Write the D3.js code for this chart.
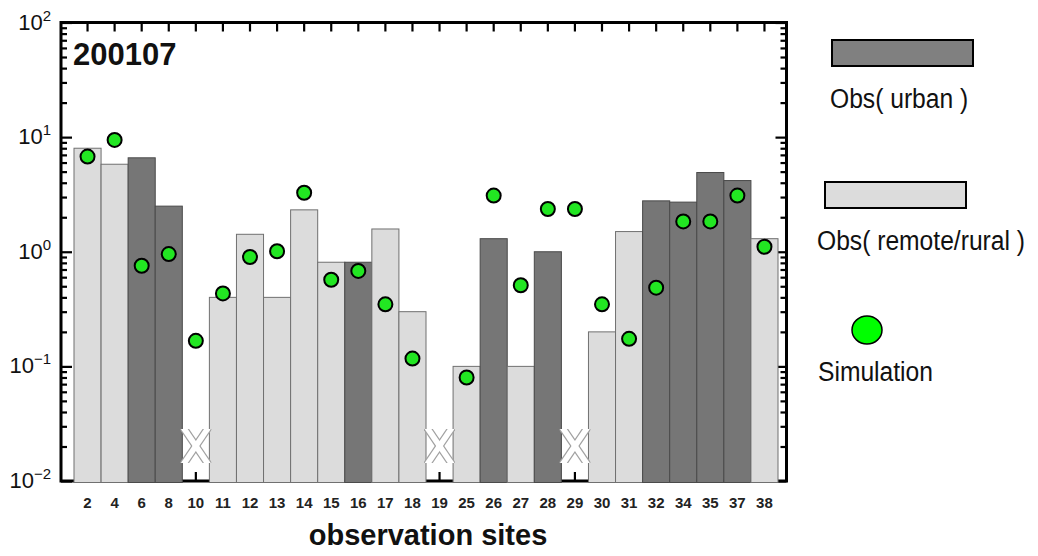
<!DOCTYPE html>
<html>
<head>
<meta charset="utf-8">
<script src="https://cdn.jsdelivr.net/npm/d3@7"></script>
<style>
  body { margin: 0; background: #fff; }
  svg { font-family: "Liberation Sans", Arial, Helvetica, sans-serif; }
</style>
</head>
<body>
<div id="chart"></div>
<script>
// observation sites (x categories)
var sites = ["2", "4", "6", "8", "10", "11", "12", "13", "14", "15", "16", "17", "18",
    "19", "25", "26", "27", "28", "29", "30", "31", "32", "34", "35", "37", "38"];
// 1 = urban, 0 = remote/rural
var urban = [0, 0, 1, 1, 0, 0, 0, 0, 0, 0, 1, 0, 0, 0, 0, 1, 0, 1, 0, 0, 0, 1, 1, 1, 1, 0];
// observed values (null = no data, drawn as X)
var obsValues = [8.0, 5.8, 6.6, 2.5, null, 0.40, 1.42, 0.40, 2.32, 0.81, 0.81, 1.58, 0.30,
    null, 0.10, 1.30, 0.10, 1.0, null, 0.20, 1.50, 2.78, 2.71, 4.91, 4.18, 1.30];
// simulated values
var simValues = [6.77, 9.46, 0.755, 0.955, 0.167, 0.433, 0.90, 1.01, 3.27, 0.57, 0.68, 0.348, 0.117,
    null, 0.080, 3.09, 0.51, 2.36, 2.36, 0.348, 0.174, 0.486, 1.84, 1.84, 3.09, 1.105];
var yTicks = [0.01, 0.1, 1, 10, 100];
var yExponents = ["\u22122", "\u22121", "0", "1", "2"];
var legendLabels = ["Obs( urban )", "Obs( remote/rural )", "Simulation"];

var width = 1038, height = 556;
var frame = { left: 61, right: 786.5, top: 22.5, bottom: 481 };

var svg = d3.select("#chart").append("svg")
    .attr("width", width)
    .attr("height", height);

var x = d3.scaleBand().domain(sites).range([74, 778]).padding(0);
var y = d3.scaleLog().domain([0.01, 100]).range([frame.bottom, frame.top]);

var data = sites.map(function (s, i) {
    return { site: s, urban: urban[i], obs: obsValues[i], sim: simValues[i] };
});
var missing = data.filter(function (d) { return d.obs == null; });

var minorTicks = [];
[0.01, 0.1, 1, 10].forEach(function (d) {
    for (var k = 2; k <= 9; k++) minorTicks.push(d * k);
});

// frame lines
svg.append("rect")
    .attr("x", frame.left).attr("y", frame.top)
    .attr("width", frame.right - frame.left)
    .attr("height", frame.bottom - frame.top)
    .attr("fill", "none")
    .attr("stroke", "#000")
    .attr("stroke-width", 3);

function styleAxis(g) {
    g.select(".domain").remove();
    g.selectAll(".tick line").attr("stroke", "#000").attr("stroke-width", 2.2);
    g.selectAll(".tick text").remove();
}

// left axis: inward ticks
svg.append("g").attr("transform", "translate(" + frame.left + ",0)")
    .call(d3.axisRight(y).tickValues(minorTicks).tickSize(6)).call(styleAxis);
svg.append("g").attr("transform", "translate(" + frame.left + ",0)")
    .call(d3.axisRight(y).tickValues(yTicks).tickSize(11)).call(styleAxis);
// right axis
svg.append("g").attr("transform", "translate(" + frame.right + ",0)")
    .call(d3.axisLeft(y).tickValues(minorTicks).tickSize(6)).call(styleAxis);
svg.append("g").attr("transform", "translate(" + frame.right + ",0)")
    .call(d3.axisLeft(y).tickValues(yTicks).tickSize(11)).call(styleAxis);
// top axis
svg.append("g").attr("transform", "translate(0," + frame.top + ")")
    .call(d3.axisBottom(x).tickSize(9)).call(styleAxis);
// bottom axis (mostly hidden by bars)
svg.append("g").attr("transform", "translate(0," + frame.bottom + ")")
    .call(d3.axisTop(x).tickSize(9)).call(styleAxis);

// y tick labels 10^n
var yLab = svg.append("g").selectAll("text")
    .data(yTicks)
    .enter().append("text")
    .attr("x", 51)
    .attr("y", function (d) { return y(d) + 7; })
    .attr("text-anchor", "end")
    .attr("fill", "#111")
    .style("font-size", "22px");
yLab.append("tspan").text("10");
yLab.append("tspan")
    .attr("dy", -9)
    .style("font-size", "15px")
    .text(function (d, i) { return yExponents[i]; });

// bars
svg.append("g").selectAll("rect")
    .data(data.filter(function (d) { return d.obs != null; }))
    .enter().append("rect")
    .attr("x", function (d) { return x(d.site); })
    .attr("y", function (d) { return y(d.obs); })
    .attr("width", x.bandwidth())
    .attr("height", function (d) { return y(0.01) + 1.5 - y(d.obs); })
    .attr("fill", function (d) { return d.urban ? "#767676" : "#dcdcdc"; })
    .attr("stroke", function (d) { return d.urban ? "#4a4a4a" : "#707070"; })
    .attr("stroke-width", 1);

// missing observation markers: outlined X, clipped to a box in the band
var defs = svg.append("defs");
var xTop = 429, xBot = 463;
missing.forEach(function (d, i) {
    defs.append("clipPath").attr("id", "xclip" + i)
        .append("rect")
        .attr("x", x(d.site) - 2).attr("y", xTop)
        .attr("width", x.bandwidth() + 4).attr("height", xBot - xTop);
});
var marks = svg.append("g").selectAll("g")
    .data(missing)
    .enter().append("g")
    .attr("clip-path", function (d, i) { return "url(#xclip" + i + ")"; });
function crossLines(g, color, w) {
    g.each(function (d) {
        var x0 = x(d.site) + 2, x1 = x(d.site) + x.bandwidth() - 2;
        var dx = (x1 - x0) * 0.15, dy = (xBot - xTop) * 0.15;
        var sel = d3.select(this);
        sel.append("line")
            .attr("x1", x0 - dx).attr("y1", xTop - dy)
            .attr("x2", x1 + dx).attr("y2", xBot + dy)
            .attr("stroke", color).attr("stroke-width", w);
        sel.append("line")
            .attr("x1", x1 + dx).attr("y1", xTop - dy)
            .attr("x2", x0 - dx).attr("y2", xBot + dy)
            .attr("stroke", color).attr("stroke-width", w);
    });
}
marks.call(crossLines, "#a0a0a0", 8);
marks.call(crossLines, "#ffffff", 5.6);

// simulation dots
svg.append("g").selectAll("circle")
    .data(data.filter(function (d) { return d.sim != null; }))
    .enter().append("circle")
    .attr("cx", function (d) { return x(d.site) + x.bandwidth() / 2; })
    .attr("cy", function (d) { return y(d.sim); })
    .attr("r", 7)
    .attr("fill", "#22e622")
    .attr("stroke", "#000")
    .attr("stroke-width", 2);

// x labels
svg.append("g").selectAll("text")
    .data(sites)
    .enter().append("text")
    .attr("x", function (d) { return x(d) + x.bandwidth() / 2; })
    .attr("y", 508)
    .attr("text-anchor", "middle")
    .style("font-size", "15px")
    .style("font-weight", "bold")
    .attr("fill", "#222")
    .text(function (d) { return d; });

// title
svg.append("text")
    .attr("x", 73).attr("y", 65)
    .style("font-size", "31px")
    .style("font-weight", "bold")
    .attr("fill", "#111")
    .text("200107");

// x axis title
svg.append("text")
    .attr("x", 428).attr("y", 545)
    .attr("text-anchor", "middle")
    .style("font-size", "29px")
    .style("font-weight", "bold")
    .attr("fill", "#111")
    .text("observation sites");

// legend
var legend = svg.append("g");
legend.append("rect")
    .attr("x", 832).attr("y", 40).attr("width", 141).attr("height", 26)
    .attr("fill", "#808080").attr("stroke", "#000").attr("stroke-width", 2);
legend.append("rect")
    .attr("x", 825).attr("y", 182).attr("width", 141).attr("height", 26)
    .attr("fill", "#dcdcdc").attr("stroke", "#000").attr("stroke-width", 2);
legend.append("ellipse")
    .attr("cx", 867).attr("cy", 330).attr("rx", 15).attr("ry", 14)
    .attr("fill", "#00ff00").attr("stroke", "#000").attr("stroke-width", 1.5);

// legend text is narrow in the original: squeeze it horizontally
var legendPos = [[830, 108], [817, 250], [818, 381]];
legend.selectAll("text.leg")
    .data(legendLabels)
    .enter().append("text")
    .attr("class", "leg")
    .attr("transform", function (d, i) {
        return "translate(" + legendPos[i][0] + "," + legendPos[i][1] + ") scale(0.88,1)";
    })
    .style("font-size", "28px")
    .attr("fill", "#111")
    .text(function (d) { return d; });
</script>
</body>
</html>
